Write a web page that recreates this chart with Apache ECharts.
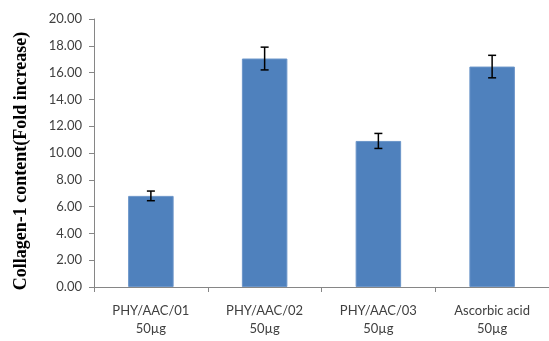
<!DOCTYPE html>
<html>
<head>
<meta charset="utf-8">
<script src="https://cdn.jsdelivr.net/npm/echarts@6/dist/echarts.min.js"></script>
<style>
html,body{margin:0;padding:0;background:#fff;}
#c{width:549px;height:341px;}
</style>
</head>
<body>
<div id="c"></div>
<script>
var categories = ['PHY/AAC/01\n50µg', 'PHY/AAC/02\n50µg', 'PHY/AAC/03\n50µg', 'Ascorbic acid\n50µg'];
var values = [6.80, 17.05, 10.90, 16.45];
var errors = [0.36, 0.85, 0.56, 0.84];
var yMin = 0, yMax = 20, yStep = 2;
var yTitle = 'Collagen-1 content(Fold increase)';

var chart = echarts.init(document.getElementById('c'), null, {renderer: 'canvas'});
var errData = values.map(function (v, i) { return [i, v - errors[i], v + errors[i]]; });
chart.setOption({
  animation: false,
  backgroundColor: '#ffffff',
  grid: {left: 94, top: 19, width: 463, height: 268, containLabel: false},
  graphic: [{
    type: 'text',
    x: 21, y: 161,
    rotation: Math.PI / 2,
    style: {
      text: yTitle,
      fontFamily: 'Liberation Serif', fontWeight: 'bold', fontSize: 18,
      fill: '#000', align: 'center', verticalAlign: 'middle'
    }
  }],
  xAxis: {
    type: 'category',
    data: categories,
    boundaryGap: true,
    axisLine: {lineStyle: {color: '#868686', width: 1}},
    axisTick: {show: true, length: 5, alignWithLabel: false, lineStyle: {color: '#868686'}},
    axisLabel: {color: '#404040', fontFamily: 'Lato', fontSize: 13, lineHeight: 18, margin: 15, interval: 0}
  },
  yAxis: {
    type: 'value',
    min: yMin, max: yMax, interval: yStep,
    axisLine: {show: true, lineStyle: {color: '#868686', width: 1}},
    axisTick: {show: true, length: 5, inside: false, lineStyle: {color: '#868686'}},
    splitLine: {show: false},
    axisLabel: {color: '#404040', fontFamily: 'Lato', fontSize: 13, margin: 12,
      formatter: function (v) { return v.toFixed(2); }}
  },
  series: [
    {
      type: 'bar',
      data: values,
      barWidth: '40%',
      itemStyle: {color: '#4F81BD', borderColor: '#6b95c9', borderWidth: 1}
    },
    {
      type: 'custom',
      data: errData,
      z: 10,
      renderItem: function (params, api) {
        var x = api.value(0);
        var lo = api.coord([x, api.value(1)]);
        var hi = api.coord([x, api.value(2)]);
        var hw = 4;
        var st = {stroke: '#000', lineWidth: 1.5};
        return {
          type: 'group',
          children: [
            {type: 'line', shape: {x1: lo[0], y1: lo[1], x2: hi[0], y2: hi[1]}, style: st},
            {type: 'line', shape: {x1: lo[0] - hw, y1: lo[1], x2: lo[0] + hw, y2: lo[1]}, style: st},
            {type: 'line', shape: {x1: hi[0] - hw, y1: hi[1], x2: hi[0] + hw, y2: hi[1]}, style: st}
          ]
        };
      }
    }
  ]
});
</script>
</body>
</html>
